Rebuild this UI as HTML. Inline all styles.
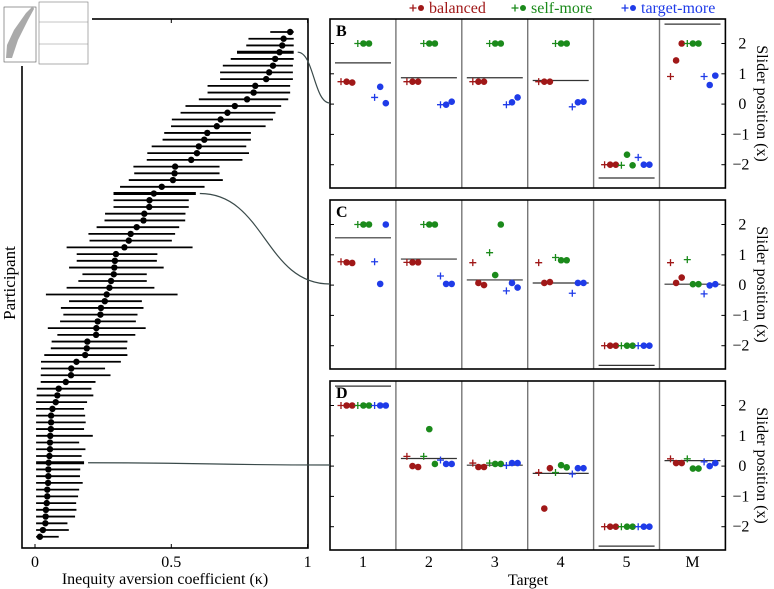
<!DOCTYPE html>
<html><head><meta charset="utf-8"><style>
body{margin:0;background:#fff}
svg{display:block;font-family:"Liberation Serif",serif}
</style></head><body>
<svg id="c" width="774" height="589" viewBox="0 0 774 589"></svg>
<script>
const kappa=[0.936,0.912,0.907,0.897,0.881,0.873,0.859,0.848,0.808,0.802,0.778,0.733,0.706,0.681,0.667,0.632,0.621,0.601,0.594,0.573,0.514,0.512,0.506,0.465,0.436,0.420,0.419,0.401,0.398,0.373,0.351,0.344,0.328,0.297,0.293,0.291,0.289,0.279,0.273,0.263,0.256,0.242,0.240,0.230,0.225,0.224,0.192,0.190,0.184,0.152,0.133,0.132,0.113,0.087,0.082,0.076,0.064,0.059,0.059,0.058,0.056,0.055,0.055,0.053,0.050,0.049,0.049,0.048,0.045,0.045,0.043,0.040,0.039,0.038,0.029,0.018];
const kLow=[0.863,0.783,0.775,0.741,0.718,0.689,0.679,0.679,0.633,0.633,0.601,0.552,0.534,0.502,0.499,0.474,0.468,0.428,0.412,0.410,0.361,0.364,0.344,0.312,0.288,0.288,0.288,0.257,0.255,0.226,0.196,0.200,0.116,0.153,0.153,0.125,0.174,0.159,0.116,0.040,0.125,0.095,0.104,0.092,0.047,0.082,0.061,0.058,0.034,0.022,0.022,0.021,0.021,0.007,0.006,0.004,0.004,0.004,0.004,0.004,0.004,0.004,0.004,0.004,0.004,0.004,0.004,0.004,0.004,0.004,0.004,0.004,0.004,0.004,0.004,0.004];
const kHigh=[0.949,0.949,0.949,0.949,0.949,0.946,0.946,0.946,0.936,0.936,0.929,0.903,0.882,0.873,0.846,0.792,0.792,0.775,0.785,0.761,0.677,0.677,0.689,0.622,0.590,0.564,0.564,0.552,0.551,0.529,0.514,0.502,0.578,0.449,0.447,0.472,0.410,0.410,0.438,0.523,0.392,0.398,0.376,0.370,0.406,0.368,0.339,0.337,0.339,0.315,0.257,0.277,0.222,0.207,0.214,0.191,0.180,0.184,0.186,0.180,0.212,0.162,0.185,0.171,0.180,0.166,0.165,0.175,0.162,0.158,0.151,0.152,0.147,0.119,0.124,0.087];
const highlighted=[3,24,64];
const targets=["1","2","3","4","5","M"];
const xTicks=[0,0.5,1];
const xTickLabels=["0","0.5","1"];
const yTicks=[2,1,0,-1,-2];
const yTickLabels=["2","1","0","\u22121","\u22122"];
const panelB=[[0.74,0.74,0.71,2,2,2,0.22,0.57,0.03],[0.74,0.74,0.74,2,2,2,-0.02,-0.02,0.08],[0.74,0.74,0.74,2,2,2,-0.02,0.06,0.22],[0.74,0.74,0.74,2,2,2,-0.09,0.06,0.08],[-2,-2,-2,-2.02,-1.67,-2.02,-1.76,-2,-2],[0.91,1.44,2,2,2,2,0.91,0.63,0.94]];
const panelC=[[0.77,0.75,0.73,2,2,2,0.77,0.04,2],[0.75,0.75,0.75,2,2,2,0.3,0.04,0.04],[0.74,0.07,0,1.07,0.33,2,-0.19,0.07,-0.08],[0.74,0.07,0.1,0.91,0.82,0.82,-0.27,0.07,0.07],[-2,-2,-2,-2,-2,-2,-2,-2,-2],[0.74,0.07,0.25,0.84,0.03,0.03,-0.29,-0.01,0.03]];
const panelD=[[2,2,2,2,2,2,2,2,2],[0.32,0,-0.03,0.32,1.22,0.07,0.2,0.07,0.07],[0.1,-0.03,-0.03,0.1,0.07,0.07,0.02,0.1,0.1],[-0.21,-1.4,-0.07,-0.21,0.03,-0.04,-0.26,-0.07,-0.07],[-2,-2,-2,-2,-2,-2,-2,-2,-2],[0.24,0.1,0.1,0.24,-0.08,-0.08,0.14,0,0.1]];
const lineB=[1.36,0.87,0.87,0.78,-2.44,2.64];
const lineC=[1.56,0.86,0.17,0.07,-2.65,0.03];
const lineD=[2.64,0.25,0.03,-0.24,-2.64,0.18];

const NS="http://www.w3.org/2000/svg";
const svg=document.getElementById('c');
function mk(tag,attrs,parent,name){const e=document.createElementNS(NS,tag);for(const k in attrs)e.setAttribute(k,attrs[k]);


(parent||svg).appendChild(e);return e;}
function txt(s,attrs,name){const t=mk('text',attrs,svg,name);t.textContent=s;return t;}

// left panel
const LX=k=>35+k*272.6;
const LY=i=>32+i*6.73;
mk('rect',{x:22,y:19,width:286,height:529,fill:'none',stroke:'#000','stroke-width':1.6},svg,'left-plot-frame');
xTicks.forEach((t,i)=>{
  mk('line',{x1:LX(t),x2:LX(t),y1:548,y2:544,stroke:'#000'},svg,'x-tick');
  mk('line',{x1:LX(t),x2:LX(t),y1:19,y2:23,stroke:'#000'},svg,'x-tick-top');
  txt(xTickLabels[i],{x:LX(t),y:567,'font-size':16,'text-anchor':'middle'},'x-tick-label');
});
txt('Inequity aversion coefficient (\u03ba)',{x:165,y:584,'font-size':16,'text-anchor':'middle'},'x-axis-title');
txt('Participant',{x:0,y:0,'font-size':17,'text-anchor':'middle',transform:'translate(15,283) rotate(-90)'},'y-axis-title');
kappa.forEach((k,i)=>{
  const hl=highlighted.includes(i);
  mk('line',{x1:LX(kLow[i]),x2:LX(kHigh[i]),y1:LY(i),y2:LY(i),stroke:'#000','stroke-width':hl?3:1.8},svg,'credible-interval');
  mk('circle',{cx:LX(k),cy:LY(i),r:3.2,fill:'#000'},svg,'participant-estimate');
});

// thumbnail (tiny preview of figure)
const th=mk('g',{},svg,'thumbnail');
mk('rect',{x:0,y:0,width:92,height:66,fill:'#fff'},th,'thumbnail-bg');
mk('rect',{x:4,y:7,width:32,height:55,fill:'none',stroke:'#555','stroke-width':0.6},th,'thumbnail-left-frame');
mk('polygon',{points:'6,58 7,45 14,30 26,13 33,6 34,9 28,20 18,40 12,58',fill:'#aaa'},th,'thumbnail-series');
mk('rect',{x:39,y:2,width:49,height:62,fill:'none',stroke:'#777','stroke-width':0.6},th,'thumbnail-panels');
mk('line',{x1:39,x2:88,y1:22,y2:22,stroke:'#888','stroke-width':0.5},th,'thumbnail-divider');
mk('line',{x1:39,x2:88,y1:44,y2:44,stroke:'#888','stroke-width':0.5},th,'thumbnail-divider');

// right panels
const colors=['#a01818','#1b8a1b','#1f3be8'];
const PX0=330,CW=65.9;
const tops=[19,200,381];
const PH=169;
const PY=(v,top)=>top+24.5+(2-v)*30.3;
const panels=[panelB,panelC,panelD],lines=[lineB,lineC,lineD],labels=['B','C','D'];
panels.forEach((pd,p)=>{
  const top=tops[p];
  for(let c=1;c<6;c++) mk('line',{x1:PX0+c*CW,x2:PX0+c*CW,y1:top,y2:top+PH,stroke:'#777','stroke-width':1.4},svg,'target-separator');
  mk('rect',{x:PX0,y:top,width:6*CW,height:PH,fill:'none',stroke:'#000','stroke-width':1.6},svg,'panel-frame-'+labels[p]);
  txt(labels[p],{x:PX0+6,y:top+17,'font-size':16,'font-weight':'bold'},'panel-label');
  yTicks.forEach((t,i)=>{
    const y=PY(t,top);
    mk('line',{x1:PX0+6*CW,x2:PX0+6*CW-4,y1:y,y2:y,stroke:'#000'},svg,'y-tick');
    mk('line',{x1:PX0,x2:PX0+4,y1:y,y2:y,stroke:'#000'},svg,'y-tick-left');
    txt(yTickLabels[i],{x:PX0+6*CW+(t<0?7:13),y:y+5,'font-size':16},'y-tick-label');
  });
  txt('Slider position (x)',{x:0,y:0,'font-size':16,'text-anchor':'middle',transform:`translate(757,${top+PH/2}) rotate(90)`},'y-axis-title-right');
  pd.forEach((vals,c)=>{
    const cx=PX0+c*CW;
    const ly=PY(lines[p][c],top);
    mk('line',{x1:cx+5,x2:cx+61,y1:ly,y2:ly,stroke:'#333','stroke-width':1.2},svg,'model-prediction-line');
    vals.forEach((v,j)=>{
      const x=cx+11+j*5.6, y=PY(v,top), col=colors[Math.floor(j/3)];
      if(j%3===0){
        mk('path',{d:`M${x-3.5},${y}h7M${x},${y-3.5}v7`,stroke:col,'stroke-width':1.3},svg,'prediction-marker');
      } else {
        mk('circle',{cx:x,cy:y,r:3.3,fill:col},svg,'observed-marker');
      }
    });
  });
});
targets.forEach((t,i)=>txt(t,{x:PX0+(i+0.5)*CW,y:567,'font-size':16,'text-anchor':'middle'},'target-tick-label'));
txt('Target',{x:528,y:585,'font-size':16,'text-anchor':'middle'},'x-axis-title-right');

// legend
const legend=[['balanced',413,colors[0]],['self-more',515,colors[1]],['target-more',625,colors[2]]];
legend.forEach(([n,x,col])=>{
  const g=mk('g',{},svg,'legend-entry');
  mk('path',{d:`M${x-3.5},8h7M${x},4.5v7`,stroke:col,'stroke-width':1.3},g,'legend-plus');
  mk('circle',{cx:x+8,cy:8,r:3,fill:col},g,'legend-dot');
  const t=mk('text',{x:x+16,y:13,'font-size':16,fill:col},g,'legend-label');t.textContent=n;
});

// connectors
const conn=[[3,103],[24,284],[64,465]];
conn.forEach(([i,ty])=>{
  const x0=LX(kHigh[i])+4,y0=LY(i);
  const mid=(x0+330)/2;
  mk('path',{d:`M${x0},${y0}C${mid},${y0} ${mid},${ty} 330,${ty}`,fill:'none',stroke:'#3a4a4a','stroke-width':1.2},svg,'connector-curve');
});
</script>
</body></html>
